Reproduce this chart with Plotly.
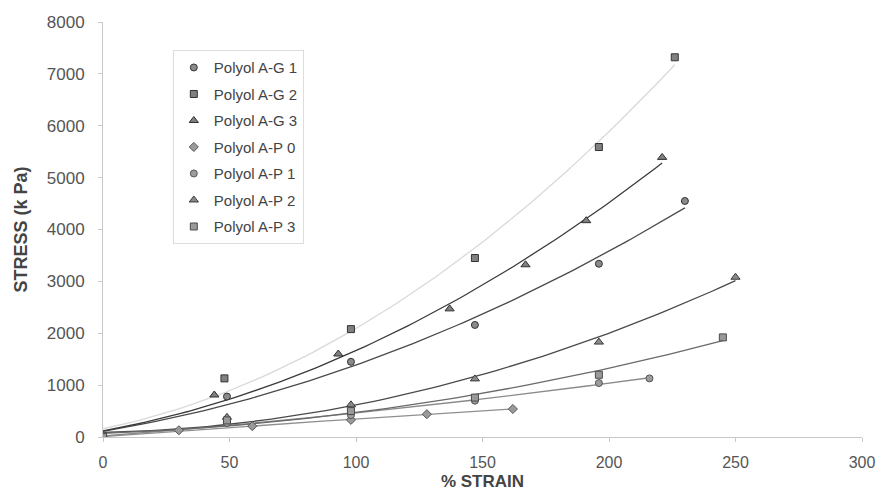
import numpy as np
import plotly.graph_objects as go

# ---- data ----
names = ["Polyol A-G 1", "Polyol A-G 2", "Polyol A-G 3", "Polyol A-P 0",
         "Polyol A-P 1", "Polyol A-P 2", "Polyol A-P 3"]

ag1_x = [0, 49, 98, 147, 196, 230]
ag1_y = [0, 780, 1450, 2160, 3340, 4550]

ag2_x = [0, 48, 98, 147, 196, 226]
ag2_y = [0, 1130, 2080, 3450, 5590, 7320]

ag3_x = [0, 44, 93, 137, 167, 191, 221]
ag3_y = [0, 810, 1600, 2470, 3320, 4170, 5390]

ap0_x = [0, 30, 59, 98, 128, 162]
ap0_y = [0, 130, 210, 330, 440, 540]

ap1_x = [0, 49, 98, 147, 196, 216]
ap1_y = [0, 270, 420, 700, 1040, 1130]

ap2_x = [0, 49, 98, 147, 196, 250]
ap2_y = [0, 380, 620, 1120, 1830, 3080]

ap3_x = [0, 49, 98, 147, 196, 245]
ap3_y = [0, 320, 500, 760, 1200, 1920]

x_ticks = [0, 50, 100, 150, 200, 250, 300]
y_ticks = [0, 1000, 2000, 3000, 4000, 5000, 6000, 7000, 8000]

# ---- styles ----
series = [
    (names[0], ag1_x, ag1_y, "circle", "#8a8a8a", "#333333", "#4a4a4a", 7),
    (names[1], ag2_x, ag2_y, "square", "#808080", "#333333", "#d9d9d9", 7),
    (names[2], ag3_x, ag3_y, "triangle-up", "#808080", "#2e2e2e", "#3a3a3a", 8),
    (names[3], ap0_x, ap0_y, "diamond", "#9a9a9a", "#555555", "#8f8f8f", 7),
    (names[4], ap1_x, ap1_y, "circle", "#9c9c9c", "#555555", "#8a8a8a", 7),
    (names[5], ap2_x, ap2_y, "triangle-up", "#8a8a8a", "#3a3a3a", "#4a4a4a", 8),
    (names[6], ap3_x, ap3_y, "square", "#999999", "#4a4a4a", "#6a6a6a", 7),
]

FONT = "Arial, 'Liberation Sans', sans-serif"

fig = go.Figure()

# trend lines (2nd-order polynomial fits of each series)
for i, (nm, xs, ys, sym, fill, edge, lc, sz) in enumerate(series):
    coef = np.polyfit(xs, ys, 2)
    xf = np.linspace(0, max(xs), 80)
    yf = np.polyval(coef, xf)
    fig.add_trace(go.Scatter(
        x=xf, y=yf, mode="lines", line=dict(color=lc, width=1.3),
        showlegend=False, hoverinfo="skip", legendgroup=f"g{i}"))

# markers
for i, (nm, xs, ys, sym, fill, edge, lc, sz) in enumerate(series):
    fig.add_trace(go.Scatter(
        x=xs, y=ys, mode="markers", name=nm, legendgroup=f"g{i}",
        marker=dict(symbol=sym, size=sz, color=fill,
                    line=dict(color=edge, width=1))))

fig.update_layout(
    width=882, height=491,
    margin=dict(l=103, r=20, t=22, b=54),
    paper_bgcolor="white", plot_bgcolor="white",
    font=dict(family=FONT, size=17, color="#555555"),
    showlegend=True,
    legend=dict(
        x=0.092, y=0.932, xanchor="left", yanchor="top",
        bgcolor="white", bordercolor="#dddddd", borderwidth=1,
        font=dict(family=FONT, size=15, color="#444444"),
        tracegroupgap=4, itemsizing="trace",
    ),
    xaxis=dict(
        range=[0, 300], tickvals=x_ticks, showgrid=False, zeroline=False,
        showline=True, linecolor="#c8c8c8", linewidth=1,
        ticks="outside", ticklen=4, tickcolor="#c8c8c8",
        ticklabelstandoff=7,
        tickfont=dict(family=FONT, size=16, color="#555555"),
        title=dict(text="<b>% STRAIN</b>", standoff=9,
                   font=dict(family=FONT, size=17, color="#444444")),
        automargin=False,
    ),
    yaxis=dict(
        range=[0, 8000], tickvals=y_ticks, showgrid=False, zeroline=False,
        showline=True, linecolor="#c8c8c8", linewidth=1,
        ticks="outside", ticklen=4, tickcolor="#c8c8c8",
        ticklabelstandoff=10,
        tickfont=dict(family=FONT, size=17, color="#555555"),
        title=dict(text="<b>STRESS (k Pa)</b>", standoff=14,
                   font=dict(family=FONT, size=18, color="#444444")),
        automargin=False,
    ),
)

fig.write_html("out.html")
